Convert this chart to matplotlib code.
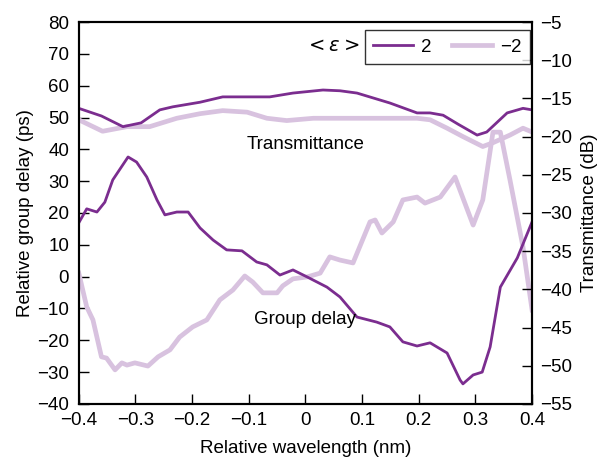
import matplotlib
matplotlib.use('Agg')
import matplotlib.pyplot as plt

plt.rcParams['font.family'] = ['Liberation Sans', 'DejaVu Sans']
plt.rcParams['font.size'] = 13.5

# group delay, eps = 2 (left axis, ps)
gd_pos_x = [-0.4, -0.386, -0.368, -0.354, -0.34, -0.313, -0.298, -0.28, -0.262, -0.248,
            -0.227, -0.207, -0.186, -0.163, -0.139, -0.112, -0.086, -0.068, -0.045, -0.022,
            0.003, 0.038, 0.061, 0.091, 0.126, 0.149, 0.172, 0.197, 0.22, 0.25,
            0.273, 0.278, 0.296, 0.312, 0.326, 0.344, 0.374, 0.4]
gd_pos_y = [16.9, 21.3, 20.3, 23.4, 30.4, 37.6, 36.0, 31.3, 24.1, 19.4,
            20.3, 20.3, 15.3, 11.5, 8.4, 8.1, 4.6, 3.7, 0.5, 2.1,
            -0.1, -3.3, -6.4, -12.7, -14.3, -15.8, -20.5, -21.8, -20.8, -24.0,
            -32.5, -33.7, -30.9, -30.0, -22.1, -3.3, 5.9, 17.2]

# group delay, eps = -2
gd_neg_x = [-0.4, -0.386, -0.375, -0.36, -0.351, -0.336, -0.324, -0.315, -0.301, -0.278,
            -0.26, -0.239, -0.222, -0.199, -0.174, -0.151, -0.128, -0.107, -0.093, -0.075,
            -0.05, -0.04, -0.022, 0.003, 0.026, 0.043, 0.061, 0.084, 0.114, 0.123,
            0.135, 0.155, 0.172, 0.197, 0.211, 0.238, 0.264, 0.296, 0.313, 0.331,
            0.344, 0.361, 0.384, 0.4]
gd_neg_y = [1.1, -9.5, -13.6, -25.2, -25.6, -29.3, -27.1, -27.8, -27.1, -28.1,
            -25.2, -23.0, -19.0, -15.8, -13.6, -7.3, -4.2, 0.2, -1.7, -5.1,
            -5.1, -2.9, -0.7, -0.1, 1.1, 6.2, 5.2, 4.3, 17.2, 17.8,
            13.7, 17.2, 24.1, 25.0, 23.1, 25.0, 31.3, 16.2, 24.1, 45.4,
            45.4, 30.4, 9.3, -10.5]

# transmittance, eps = 2 (right axis, dB)
tr_pos_x = [-0.4, -0.36, -0.322, -0.29, -0.257, -0.234, -0.186, -0.146, -0.1, -0.063,
            -0.022, 0.031, 0.061, 0.091, 0.149, 0.197, 0.22, 0.243, 0.27, 0.303,
            0.32, 0.356, 0.384, 0.4]
tr_pos_y = [-16.3, -17.3, -18.7, -18.2, -16.5, -16.1, -15.5, -14.8, -14.8, -14.8,
            -14.3, -13.9, -14.0, -14.3, -15.6, -16.9, -16.9, -17.2, -18.4, -19.8,
            -19.4, -16.9, -16.3, -16.5]

# transmittance, eps = -2
tr_neg_x = [-0.4, -0.358, -0.315, -0.275, -0.227, -0.186, -0.146, -0.103, -0.068, -0.033,
            0.014, 0.061, 0.197, 0.22, 0.25, 0.278, 0.313, 0.331, 0.361, 0.384, 0.4]
tr_neg_y = [-17.8, -19.3, -18.7, -18.7, -17.6, -17.0, -16.6, -16.8, -17.6, -17.9,
            -17.6, -17.6, -17.6, -17.8, -18.9, -20.0, -21.3, -20.8, -19.8, -18.9, -19.4]

dark = '#7b2d8f'
light = '#d8c2df'

fig = plt.figure(figsize=(6.06, 4.59), dpi=100)
ax = fig.add_axes([0.130, 0.120, 0.748, 0.832])
ax2 = ax.twinx()

ax.plot(gd_neg_x, gd_neg_y, color=light, lw=3.4)
ax.plot(gd_pos_x, gd_pos_y, color=dark, lw=2.0)
l2, = ax2.plot(tr_neg_x, tr_neg_y, color=light, lw=3.4, label='\u22122')
l1, = ax2.plot(tr_pos_x, tr_pos_y, color=dark, lw=2.0, label='2')

ax.set_xlim(-0.4, 0.4)
ax.set_ylim(-40, 80)
ax2.set_ylim(-55, -5)
ax.set_xticks([-0.4, -0.3, -0.2, -0.1, 0, 0.1, 0.2, 0.3, 0.4])
ax.set_xticklabels(['\u22120.4', '\u22120.3', '\u22120.2', '\u22120.1', '0',
                    '0.1', '0.2', '0.3', '0.4'])
ax.set_yticks(range(-40, 81, 10))
ax2.set_yticks(range(-55, -4, 5))

for a in (ax, ax2):
    a.tick_params(direction='in', length=7, width=1, pad=6)
    for s in a.spines.values():
        s.set_linewidth(1.5)
ax.tick_params(axis='y', pad=7)

ax.set_xlabel('Relative wavelength (nm)', labelpad=8)
ax.set_ylabel('Relative group delay (ps)', labelpad=2)
ax2.set_ylabel('Transmittance (dB)', labelpad=6)

ax.text(0.0, 41.5, 'Transmittance', ha='center', va='center')
ax.text(0.0, -13.5, 'Group delay', ha='center', va='center')

leg = ax2.legend(handles=[l1, l2], ncol=2, loc='upper left',
                 bbox_to_anchor=(0.631, 0.979), borderaxespad=0,
                 frameon=True, fancybox=False, edgecolor='black',
                 handlelength=2.1, columnspacing=1.1, handletextpad=0.45,
                 borderpad=0.45, fontsize=13.5)
leg.get_frame().set_linewidth(1.0)
ax2.text(0.62, 0.937, r'$<\varepsilon>$', transform=ax.transAxes,
         ha='right', va='center', fontsize=14)

fig.savefig('out.png', dpi=100)
